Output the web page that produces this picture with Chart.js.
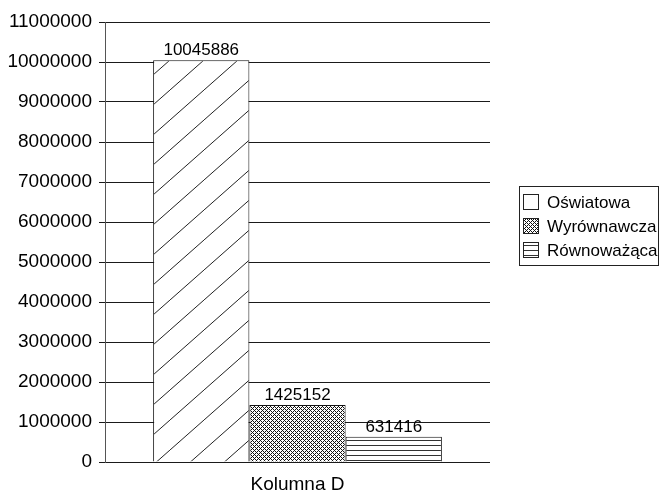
<!DOCTYPE html>
<html>
<head>
<meta charset="utf-8">
<script src="https://cdn.jsdelivr.net/npm/chart.js@4"></script>
<style>
  html, body { margin: 0; padding: 0; background: #fff; }
  #wrap { width: 659px; height: 491px; }
</style>
</head>
<body>
<div id="wrap"><canvas id="chart" width="659" height="491"></canvas></div>
<script>
// data
const categories = ['Kolumna D'];
const seriesNames = ['Oświatowa', 'Wyrównawcza', 'Równoważąca'];
const seriesValues = [10045886, 1425152, 631416];
const yTicks = [0, 1000000, 2000000, 3000000, 4000000, 5000000, 6000000, 7000000, 8000000, 9000000, 10000000, 11000000];

const FONT = '"Liberation Sans", Arial, sans-serif';

function makePattern(w, h, draw) {
    const c = document.createElement('canvas');
    c.width = w;
    c.height = h;
    const g = c.getContext('2d');
    g.fillStyle = '#fff';
    g.fillRect(0, 0, w, h);
    draw(g);
    return document.getElementById('chart').getContext('2d').createPattern(c, 'repeat');
}

// wide diagonal hatch
const diagPattern = makePattern(34, 30, g => {
    g.strokeStyle = '#222';
    g.lineWidth = 1;
    g.beginPath();
    g.moveTo(0, 30); g.lineTo(34, 0);
    g.moveTo(-2, 2); g.lineTo(2, -2);
    g.moveTo(32, 32); g.lineTo(36, 28);
    g.stroke();
});

// dense cross hatch
const crossPattern = makePattern(4, 4, g => {
    g.fillStyle = '#111';
    g.fillRect(0, 0, 1, 1);
    g.fillRect(2, 2, 1, 1);
    g.fillRect(1, 1, 1, 1);
    g.fillRect(3, 3, 1, 1);
    g.fillRect(3, 1, 1, 1);
    g.fillRect(1, 3, 1, 1);
});

// horizontal lines
const horizPattern = makePattern(8, 5, g => {
    g.fillStyle = '#333';
    g.fillRect(0, 0, 8, 1);
});

const fills = [diagPattern, crossPattern, horizPattern];
const legendFills = ['#fff', crossPattern, horizPattern];

const valueLabels = {
    id: 'valueLabels',
    afterDatasetsDraw(chart) {
        const ctx = chart.ctx;
        ctx.save();
        ctx.font = '17px ' + FONT;
        ctx.fillStyle = '#000';
        ctx.textAlign = 'center';
        ctx.textBaseline = 'bottom';
        chart.data.datasets.forEach((ds, i) => {
            const meta = chart.getDatasetMeta(i);
            meta.data.forEach((bar, j) => {
                ctx.fillText(String(ds.data[j]), bar.x, bar.y - 1);
            });
        });
        ctx.restore();
    }
};

const boxLegend = {
    id: 'boxLegend',
    afterDraw(chart) {
        const ctx = chart.ctx;
        const x0 = 519, y0 = 186, w = 139, h = 79;
        ctx.save();
        ctx.strokeStyle = '#222';
        ctx.lineWidth = 1;
        ctx.strokeRect(x0 + 0.5, y0 + 0.5, w, h);
        ctx.font = '17px ' + FONT;
        ctx.fillStyle = '#000';
        ctx.textBaseline = 'middle';
        chart.data.datasets.forEach((ds, i) => {
            const cy = y0 + 16 + i * 24;
            ctx.fillStyle = legendFills[i];
            ctx.fillRect(523, cy - 8, 16, 16);
            ctx.strokeStyle = '#222';
            ctx.strokeRect(523.5, cy - 7.5, 15, 15);
            ctx.fillStyle = '#000';
            ctx.fillText(ds.label, 547, cy + 1);
        });
        ctx.restore();
    }
};

new Chart(document.getElementById('chart'), {
    type: 'bar',
    data: {
        labels: categories,
        datasets: seriesNames.map((name, i) => ({
            label: name,
            data: [seriesValues[i]],
            backgroundColor: fills[i],
            borderColor: '#111',
            borderWidth: 1,
            barPercentage: 1,
            categoryPercentage: 0.75
        }))
    },
    options: {
        responsive: false,
        devicePixelRatio: 1,
        animation: false,
        layout: { padding: { left: 0, right: 169, top: 22, bottom: 0 } },
        plugins: {
            legend: { display: false },
            tooltip: { enabled: false }
        },
        scales: {
            x: {
                grid: { display: false },
                border: { display: false },
                ticks: { color: '#000', font: { family: FONT, size: 19 }, padding: 3 },
                afterFit(scale) { scale.height = 29; }
            },
            y: {
                min: 0,
                max: 11000000,
                afterBuildTicks(scale) { scale.ticks = yTicks.map(v => ({ value: v })); },
                ticks: {
                    color: '#000',
                    font: { family: FONT, size: 19 },
                    padding: 7,
                    callback: v => String(v)
                },
                grid: { color: '#1a1a1a', lineWidth: 1, tickLength: 6 },
                border: { color: '#555', width: 1 },
                afterFit(scale) { scale.width = 105; }
            }
        }
    },
    plugins: [valueLabels, boxLegend]
});
</script>
</body>
</html>
